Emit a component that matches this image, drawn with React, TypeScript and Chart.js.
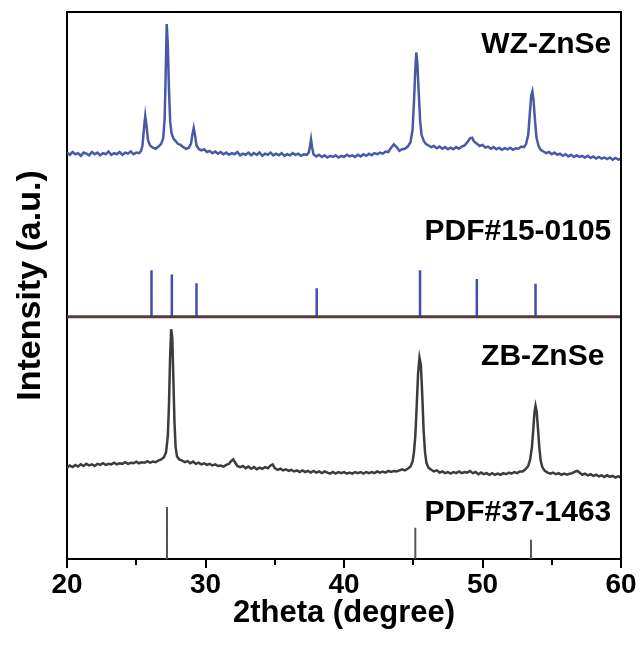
import React, { useEffect, useRef } from "react";
import { Chart, registerables } from "chart.js";

Chart.register(...registerables);

// ---------- data ----------
// WZ-ZnSe measured pattern: [2theta, intensity]
const wzPattern: number[][] = [
  [20.0, 74.3], [20.2, 73.9], [20.4, 74.4], [20.6, 74.0], [20.8, 74.2], [21.0, 73.7], [21.2, 74.3], [21.4, 74.1],
  [21.6, 73.8], [21.8, 74.4], [22.0, 74.0], [22.2, 74.3], [22.4, 73.8], [22.6, 74.2], [22.8, 74.0], [23.0, 74.5],
  [23.2, 73.9], [23.4, 74.2], [23.6, 74.0], [23.8, 74.4], [24.0, 73.9], [24.2, 74.3], [24.4, 74.1], [24.6, 74.5],
  [24.8, 74.0], [25.0, 74.3], [25.2, 74.2], [25.35, 74.6], [25.45, 75.6], [25.55, 78.5], [25.65, 81.0], [25.75, 79.0],
  [25.85, 76.5], [26.0, 75.6], [26.2, 75.2], [26.4, 75.0], [26.6, 75.4], [26.8, 75.9], [26.95, 77.0], [27.05, 80.5],
  [27.12, 88.0], [27.2, 97.8], [27.28, 94.0], [27.36, 86.0], [27.45, 80.0], [27.55, 77.8], [27.7, 76.8], [27.85, 76.4],
  [28.0, 75.9], [28.2, 75.7], [28.4, 75.3], [28.6, 75.0], [28.8, 75.2], [28.95, 75.9], [29.05, 77.5], [29.15, 78.8],
  [29.25, 77.4], [29.35, 75.6], [29.5, 75.0], [29.7, 74.7], [29.9, 74.9], [30.1, 74.4], [30.3, 74.6], [30.5, 74.2],
  [30.7, 74.5], [30.9, 74.1], [31.1, 74.4], [31.3, 74.0], [31.5, 74.3], [31.7, 73.9], [31.9, 74.2], [32.1, 74.0],
  [32.3, 74.4], [32.5, 73.8], [32.7, 74.1], [32.9, 73.9], [33.1, 74.3], [33.3, 73.8], [33.5, 74.2], [33.7, 73.9],
  [33.9, 74.3], [34.1, 73.7], [34.3, 74.1], [34.5, 73.9], [34.7, 74.3], [34.9, 73.8], [35.1, 74.1], [35.3, 73.8],
  [35.5, 74.2], [35.7, 73.7], [35.9, 74.0], [36.1, 73.8], [36.3, 74.2], [36.5, 73.9], [36.7, 74.1], [36.9, 73.7],
  [37.1, 74.0], [37.3, 73.9], [37.45, 74.3], [37.55, 75.5], [37.62, 76.7], [37.7, 75.2], [37.8, 74.0], [38.0, 73.6],
  [38.2, 73.9], [38.4, 73.5], [38.6, 73.8], [38.8, 73.4], [39.0, 73.7], [39.2, 73.5], [39.4, 73.8], [39.6, 73.4],
  [39.8, 73.7], [40.0, 73.5], [40.2, 73.9], [40.4, 73.6], [40.6, 73.8], [40.8, 73.5], [41.0, 73.9], [41.2, 73.6],
  [41.4, 74.0], [41.6, 73.7], [41.8, 74.1], [42.0, 73.8], [42.2, 74.2], [42.4, 74.0], [42.6, 74.3], [42.8, 74.1],
  [43.0, 74.5], [43.2, 74.4], [43.4, 75.2], [43.6, 75.8], [43.8, 75.3], [44.0, 74.6], [44.2, 74.9], [44.4, 75.0],
  [44.6, 75.4], [44.8, 76.2], [44.95, 78.5], [45.05, 83.5], [45.15, 89.5], [45.22, 92.6], [45.3, 90.5], [45.4, 85.0],
  [45.5, 80.0], [45.6, 77.5], [45.75, 76.5], [45.9, 75.9], [46.1, 75.6], [46.3, 75.3], [46.5, 75.5], [46.7, 75.1],
  [46.9, 75.4], [47.1, 75.0], [47.3, 75.3], [47.5, 74.9], [47.7, 75.2], [47.9, 74.9], [48.1, 75.3], [48.3, 75.0],
  [48.5, 75.4], [48.7, 75.6], [48.9, 76.2], [49.1, 76.9], [49.25, 77.0], [49.4, 76.3], [49.6, 75.9], [49.8, 75.5],
  [50.0, 75.7], [50.2, 75.2], [50.4, 75.4], [50.6, 75.0], [50.8, 75.3], [51.0, 74.9], [51.2, 75.2], [51.4, 74.8],
  [51.6, 75.1], [51.8, 74.9], [52.0, 75.2], [52.2, 74.8], [52.4, 75.1], [52.6, 75.0], [52.8, 75.4], [53.0, 75.3],
  [53.15, 75.9], [53.3, 77.5], [53.42, 81.5], [53.52, 84.8], [53.6, 85.5], [53.68, 84.0], [53.78, 80.5], [53.9, 77.0],
  [54.05, 75.5], [54.2, 74.8], [54.4, 74.5], [54.6, 74.2], [54.8, 74.4], [55.0, 74.0], [55.2, 74.3], [55.4, 73.9],
  [55.6, 74.1], [55.8, 73.7], [56.0, 74.0], [56.2, 73.6], [56.4, 73.9], [56.6, 73.5], [56.8, 73.8], [57.0, 73.5],
  [57.2, 73.7], [57.4, 73.4], [57.6, 73.7], [57.8, 73.3], [58.0, 73.6], [58.2, 73.2], [58.4, 73.5], [58.6, 73.2],
  [58.8, 73.4], [59.0, 73.1], [59.2, 73.4], [59.4, 73.0], [59.6, 73.3], [59.8, 73.0], [60.0, 73.2],
];

// ZB-ZnSe measured pattern: [2theta, intensity]
const zbPattern: number[][] = [
  [20.0, 16.7], [20.2, 17.1], [20.4, 16.8], [20.6, 17.2], [20.8, 16.9], [21.0, 17.3], [21.2, 17.0], [21.4, 17.4],
  [21.6, 17.1], [21.8, 17.3], [22.0, 17.0], [22.2, 17.4], [22.4, 17.2], [22.6, 17.5], [22.8, 17.2], [23.0, 17.4],
  [23.2, 17.3], [23.4, 17.6], [23.6, 17.3], [23.8, 17.5], [24.0, 17.4], [24.2, 17.7], [24.4, 17.4], [24.6, 17.6],
  [24.8, 17.5], [25.0, 17.8], [25.2, 17.5], [25.4, 17.7], [25.6, 17.6], [25.8, 17.9], [26.0, 17.6], [26.2, 17.8],
  [26.4, 17.7], [26.6, 18.0], [26.8, 18.2], [27.0, 18.6], [27.15, 19.5], [27.28, 22.5], [27.36, 28.0], [27.44, 36.5],
  [27.52, 42.0], [27.6, 40.5], [27.68, 33.0], [27.76, 25.0], [27.84, 20.5], [27.94, 18.8], [28.1, 18.2], [28.3, 18.0],
  [28.5, 17.7], [28.7, 17.9], [28.9, 17.5], [29.1, 17.8], [29.3, 17.4], [29.5, 17.6], [29.7, 17.3], [29.9, 17.5],
  [30.1, 17.2], [30.3, 17.4], [30.5, 17.1], [30.7, 17.3], [30.9, 17.0], [31.1, 17.1], [31.3, 16.9], [31.5, 17.2],
  [31.7, 17.4], [31.85, 17.9], [32.0, 18.2], [32.15, 17.6], [32.3, 17.0], [32.5, 16.8], [32.7, 17.0], [32.9, 16.6],
  [33.1, 16.9], [33.3, 16.5], [33.5, 16.8], [33.7, 16.4], [33.9, 16.7], [34.1, 16.5], [34.3, 16.8], [34.5, 16.6],
  [34.7, 17.1], [34.85, 17.3], [35.0, 16.6], [35.2, 16.3], [35.4, 16.5], [35.6, 16.2], [35.8, 16.4], [36.0, 16.1],
  [36.2, 16.3], [36.4, 16.0], [36.6, 16.2], [36.8, 15.9], [37.0, 16.2], [37.2, 15.9], [37.4, 16.1], [37.6, 15.8],
  [37.8, 16.1], [38.0, 15.8], [38.2, 16.0], [38.4, 15.7], [38.6, 16.0], [38.8, 15.8], [39.0, 15.6], [39.2, 15.9],
  [39.4, 15.6], [39.6, 15.9], [39.8, 15.7], [40.0, 15.9], [40.2, 15.6], [40.4, 15.8], [40.6, 15.6], [40.8, 15.9],
  [41.0, 15.7], [41.2, 15.9], [41.4, 15.6], [41.6, 15.9], [41.8, 15.7], [42.0, 15.9], [42.2, 15.7], [42.4, 16.0],
  [42.6, 15.8], [42.8, 16.0], [43.0, 15.8], [43.2, 16.1], [43.4, 15.9], [43.6, 16.1], [43.8, 16.0], [44.0, 16.2],
  [44.2, 16.4], [44.4, 16.2], [44.6, 16.5], [44.8, 16.9], [44.95, 17.8], [45.05, 19.5], [45.15, 22.5], [45.25, 28.0],
  [45.35, 34.0], [45.45, 36.8], [45.55, 35.5], [45.65, 30.0], [45.75, 23.5], [45.85, 19.5], [45.95, 17.6], [46.1, 16.7],
  [46.3, 16.3], [46.5, 16.0], [46.7, 16.2], [46.9, 15.8], [47.1, 16.0], [47.3, 15.7], [47.5, 15.9], [47.7, 15.6],
  [47.9, 15.9], [48.1, 15.7], [48.3, 16.0], [48.5, 15.7], [48.7, 15.9], [48.9, 15.8], [49.1, 16.1], [49.3, 15.7],
  [49.5, 15.9], [49.7, 15.5], [49.9, 15.8], [50.1, 15.5], [50.3, 15.7], [50.5, 15.4], [50.7, 15.7], [50.9, 15.4],
  [51.1, 15.6], [51.3, 15.4], [51.5, 15.7], [51.7, 15.5], [51.9, 15.8], [52.1, 15.6], [52.3, 15.9], [52.5, 15.7],
  [52.7, 16.0], [52.9, 16.0], [53.1, 16.4], [53.3, 17.0], [53.45, 18.3], [53.57, 20.5], [53.67, 23.8], [53.75, 26.8],
  [53.83, 28.0], [53.91, 27.0], [54.0, 24.0], [54.1, 20.5], [54.2, 18.0], [54.32, 16.8], [54.5, 16.1], [54.7, 15.8],
  [54.9, 15.6], [55.1, 15.8], [55.3, 15.5], [55.5, 15.7], [55.7, 15.4], [55.9, 15.6], [56.1, 15.4], [56.3, 15.6],
  [56.5, 15.7], [56.7, 16.0], [56.85, 16.1], [57.0, 15.8], [57.2, 15.4], [57.4, 15.6], [57.6, 15.3], [57.8, 15.5],
  [58.0, 15.2], [58.2, 15.4], [58.4, 15.1], [58.6, 15.3], [58.8, 15.0], [59.0, 15.3], [59.2, 15.0], [59.4, 15.2],
  [59.6, 14.9], [59.8, 15.1], [60.0, 14.9],
];

// Reference sticks PDF#15-0105 (wurtzite)
const wzRefPos = [26.1, 27.57, 29.35, 38.03, 45.49, 49.59, 53.83];
const wzRefTop = [52.8, 52.0, 50.4, 49.5, 52.8, 51.2, 50.3];
const wzRefBase = 44.3;

// Reference sticks PDF#37-1463 (zinc blende)
const zbRefPos = [27.22, 45.15, 53.5];
const zbRefTop = [9.5, 5.7, 3.5];
const zbRefBase = 0;

// Text labels
const labelTexts = ["WZ-ZnSe", "PDF#15-0105", "ZB-ZnSe", "PDF#37-1463"];
const xTickValues = [20, 30, 40, 50, 60];
const xMinorTickValues = [25, 35, 45, 55];
const xTitle = "2theta (degree)";
const yTitle = "Intensity (a.u.)";

// ---------- styling / layout (not data) ----------
const labelAnchors = [
  { x: 59.3, y: 94.0 },
  { x: 59.3, y: 59.8 },
  { x: 58.8, y: 36.9 },
  { x: 59.3, y: 8.4 },
];
const FONT = "'Liberation Sans', Arial, Helvetica, sans-serif";

function sticks(pos: number[], top: number[], base: number) {
  const pts: any[] = [];
  pos.forEach((p, i) => {
    pts.push({ x: p, y: base });
    pts.push({ x: p, y: top[i] });
    pts.push({ x: p, y: null });
  });
  return pts;
}

const framePlugin = {
  id: "frameAndLabels",
  afterDatasetsDraw(chart: any) {
    const { ctx, scales } = chart;
    ctx.save();
    ctx.fillStyle = "#000";
    ctx.font = `bold 30px ${FONT}`;
    ctx.textAlign = "right";
    ctx.textBaseline = "middle";
    labelTexts.forEach((t, i) => {
      const a = labelAnchors[i];
      ctx.fillText(t, scales.x.getPixelForValue(a.x), scales.y.getPixelForValue(a.y));
    });
    ctx.restore();
  },
  afterDraw(chart: any) {
    const { ctx, chartArea, scales } = chart;
    ctx.save();
    ctx.strokeStyle = "#000";
    ctx.lineWidth = 2;
    ctx.beginPath();
    ctx.moveTo(chartArea.left, chartArea.top);
    ctx.lineTo(chartArea.right, chartArea.top);
    ctx.lineTo(chartArea.right, chartArea.bottom);
    ctx.stroke();
    // tick marks: major longer than minor
    const y0 = chartArea.bottom;
    ctx.beginPath();
    xTickValues.forEach((v) => {
      const px = Math.round(scales.x.getPixelForValue(v));
      ctx.moveTo(px, y0);
      ctx.lineTo(px, y0 + 9);
    });
    xMinorTickValues.forEach((v) => {
      const px = Math.round(scales.x.getPixelForValue(v));
      ctx.moveTo(px, y0);
      ctx.lineTo(px, y0 + 6);
    });
    ctx.stroke();
    ctx.restore();
  },
};

export default function App() {
  const canvasRef = useRef<HTMLCanvasElement>(null);

  useEffect(() => {
    if (!canvasRef.current) return;
    const chart = new Chart(canvasRef.current, {
      type: "line",
      data: {
        datasets: [
          {
            label: "WZ-ZnSe",
            data: wzPattern.map(([x, y]) => ({ x, y })),
            borderColor: "#4a58a8",
            borderWidth: 2.5,
            pointRadius: 0,
            tension: 0,
          },
          {
            label: "ZB-ZnSe",
            data: zbPattern.map(([x, y]) => ({ x, y })),
            borderColor: "#3c3c3c",
            borderWidth: 2.5,
            pointRadius: 0,
            tension: 0,
          },
          {
            label: "divider",
            data: [
              { x: 20, y: wzRefBase },
              { x: 60, y: wzRefBase },
            ],
            borderColor: "#5a3a3a",
            borderWidth: 3,
            pointRadius: 0,
          },
          {
            label: "PDF#15-0105",
            data: sticks(wzRefPos, wzRefTop, wzRefBase),
            borderColor: "#3f4fae",
            borderWidth: 2.5,
            pointRadius: 0,
            spanGaps: false,
          },
          {
            label: "PDF#37-1463",
            data: sticks(zbRefPos, zbRefTop, zbRefBase),
            borderColor: "#555555",
            borderWidth: 2,
            pointRadius: 0,
            spanGaps: false,
          },
        ],
      },
      options: {
        animation: false,
        responsive: true,
        maintainAspectRatio: false,
        layout: { padding: { top: 12, right: 19, left: 0, bottom: 0 } },
        plugins: { legend: { display: false }, tooltip: { enabled: false } },
        scales: {
          x: {
            type: "linear",
            min: 20,
            max: 60,
            afterBuildTicks: (scale: any) => {
              scale.ticks = xTickValues.map((v) => ({ value: v }));
            },
            ticks: {
              autoSkip: false,
              maxRotation: 0,
              color: "#000",
              padding: 1,
              font: { family: FONT, size: 28, weight: "bold" },
              callback: (v: any) => String(v),
            },
            grid: {
              display: true,
              drawOnChartArea: false,
              drawTicks: true,
              tickLength: 8,
              tickWidth: 0,
              tickColor: "rgba(0,0,0,0)",
            },
            border: { display: true, color: "#000", width: 2 },
            title: {
              display: true,
              text: xTitle,
              color: "#000",
              font: { family: FONT, size: 31, weight: "bold" },
              padding: { top: 0, bottom: 13 },
            },
            afterFit: (scale: any) => {
              scale.height = 86;
            },
          },
          y: {
            type: "linear",
            min: 0,
            max: 100,
            ticks: { display: false },
            grid: { display: false, drawTicks: false },
            border: { display: true, color: "#000", width: 2 },
            title: {
              display: true,
              text: yTitle,
              color: "#000",
              font: { family: FONT, size: 34, weight: "bold" },
              padding: { top: 10, bottom: 0 },
            },
            afterFit: (scale: any) => {
              scale.width = 67;
            },
          },
        },
      },
      plugins: [framePlugin],
    });
    return () => chart.destroy();
  }, []);

  return (
    <div style={{ position: "absolute", left: 0, top: 0, width: 640, height: 645, background: "#fff" }}>
      <canvas ref={canvasRef} />
    </div>
  );
}
